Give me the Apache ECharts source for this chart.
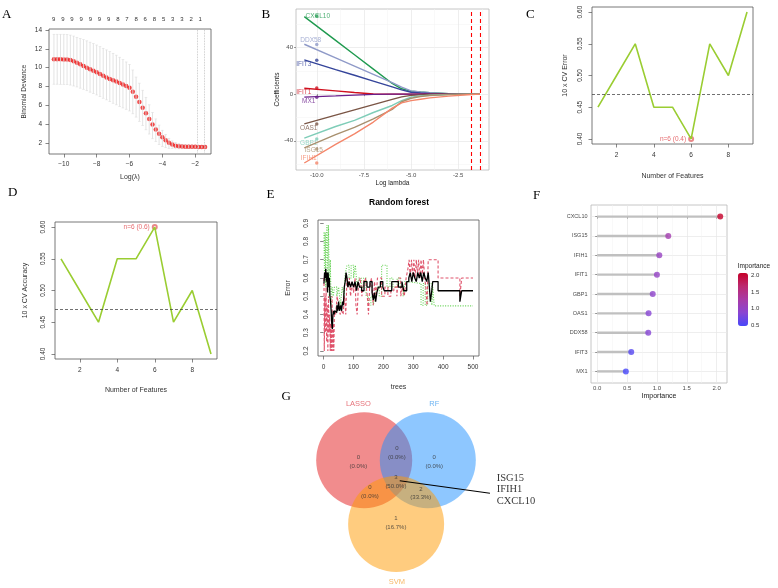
<!DOCTYPE html>
<html>
<head>
<meta charset="utf-8">
<script src="https://cdn.jsdelivr.net/npm/echarts@6.0.0/dist/echarts.min.js"></script>
<style>
  html, body { margin: 0; padding: 0; background: #fff; }
  #chart-container { width: 778px; height: 588px; }
</style>
</head>
<body>
<div id="chart-container"></div>
<script>
// ---------- A: LASSO cross-validation ----------
var logLambdaA = [-10.6,-10.4,-10.2,-10.0,-9.8,-9.6,-9.4,-9.2,-9.0,-8.8,-8.6,-8.4,-8.2,-8.0,-7.8,-7.6,-7.4,-7.2,-7.0,-6.8,-6.6,-6.4,-6.2,-6.0,-5.8,-5.6,-5.4,-5.2,-5.0,-4.8,-4.6,-4.4,-4.2,-4.0,-3.8,-3.6,-3.4,-3.2,-3.0,-2.8,-2.6,-2.4,-2.2,-2.0,-1.8,-1.6,-1.4];
var cvMean = [10.89,10.89,10.88,10.87,10.85,10.80,10.68,10.52,10.35,10.16,9.99,9.82,9.66,9.50,9.31,9.13,8.96,8.80,8.66,8.52,8.38,8.22,8.06,7.85,7.45,6.90,6.35,5.75,5.15,4.55,3.95,3.42,2.98,2.62,2.30,2.02,1.83,1.71,1.65,1.62,1.61,1.60,1.60,1.59,1.58,1.57,1.56];
var cvUpper = [13.54,13.54,13.54,13.54,13.52,13.45,13.35,13.22,13.10,12.98,12.84,12.70,12.55,12.40,12.22,12.05,11.88,11.70,11.52,11.32,11.10,10.85,10.60,10.35,9.75,9.00,8.35,7.60,6.85,6.05,5.25,4.55,3.90,3.35,2.90,2.50,2.22,2.05,1.93,1.86,1.82,1.80,1.78,1.76,1.74,1.72,1.70];
var cvLower = [8.24,8.24,8.23,8.22,8.20,8.15,8.05,7.95,7.82,7.70,7.55,7.40,7.25,7.10,6.92,6.75,6.58,6.40,6.22,6.05,5.88,5.72,5.58,5.40,5.10,4.75,4.30,3.85,3.40,2.95,2.45,2.15,1.82,1.62,1.50,1.42,1.40,1.38,1.38,1.39,1.40,1.41,1.42,1.42,1.42,1.42,1.42];
var topTickPos = [-10.61,-10.05,-9.50,-8.94,-8.38,-7.83,-7.27,-6.71,-6.15,-5.60,-5.04,-4.48,-3.92,-3.37,-2.81,-2.25,-1.70];
var topTickLabels = ['9','9','9','9','9','9','9','8','7','8','6','8','5','3','3','2','1'];
var lambdaMarksA = [-1.9, -1.43];

// ---------- B: coefficient paths ----------
var genesB = ['CXCL10','DDX58','IFIT3','IFIT1','MX1','OAS1','GBP1','ISG15','IFIH1'];
var logLambdaB = [-10.66,-9,-8,-7,-6,-5.5,-5,-4.5,-4,-3,-2,-1.35];
var pathCXCL10 = [66.5,46.1,33.8,21.5,9.2,4.6,2.6,1.8,1.2,0.5,0.1,0];
var pathDDX58  = [42.8,31.1,24.0,16.9,9.9,6.0,2.8,1.8,1.2,0.5,0.1,0];
var pathIFIT3  = [29.4,21.1,16.2,11.2,6.2,3.7,1.6,1.0,0.6,0.2,0,0];
var pathIFIT1  = [5.1,2.8,1.4,0.1,0,0,0,0,0,0,0,0];
var pathMX1    = [-2.5,-1.5,-0.8,-0.2,0,0,0,0,0,0,0,0];
var pathOAS1   = [-25.5,-18.0,-13.5,-9.0,-4.5,-2.3,-1.0,-0.6,-0.3,-0.1,0,0];
var pathGBP1   = [-37.7,-27.7,-22.5,-15.7,-9.7,-5.5,-2.5,-1.5,-0.9,-0.3,-0.1,0];
var pathISG15  = [-46.0,-34.7,-28.5,-21.1,-13.0,-6.5,-3.5,-2.0,-1.2,-0.4,-0.1,0];
var pathIFIH1  = [-59.0,-43.1,-34.0,-23.9,-12.0,-7.5,-5.5,-4.3,-3.2,-1.7,-0.5,0];
var coefDotX = -10;
var coefDots = [67, 42.6, 29, 5.2, -2.6, -25.5, -38.5, -47, -59];
var lambdaCutB = [-1.81, -1.35];

// ---------- C / D: SVM-RFE ----------
var nFeatures = [1,2,3,4,5,6,7,8,9];
var cvError = [0.45,0.50,0.55,0.45,0.45,0.40,0.55,0.50,0.60];
var cvAccuracy = [0.55,0.50,0.45,0.55,0.55,0.60,0.45,0.50,0.40];
var refLines = [0.473, 0.474];

// ---------- E: random forest error ----------
var oobErr = [[1,0.57],[3,0.63],[5,0.6],[7,0.65],[9,0.58],[11,0.63],[13,0.52],[15,0.63],[17,0.55],[19,0.6],[21,0.5],[23,0.47],[25,0.42],[27,0.35],[29,0.32],[31,0.4],[33,0.42],[35,0.4],[37,0.42],[40,0.41],[44,0.45],[47,0.42],[50,0.47],[53,0.42],[57,0.45],[60,0.42],[63,0.47],[66,0.45],[69,0.55],[72,0.58],[75,0.63],[78,0.6],[81,0.55],[85,0.58],[90,0.55],[95,0.58],[100,0.55],[105,0.58],[110,0.53],[115,0.58],[120,0.55],[127,0.53],[135,0.58],[145,0.55],[155,0.58],[162,0.52],[166,0.48],[170,0.52],[174,0.47],[178,0.52],[183,0.55],[190,0.58],[198,0.55],[203,0.53],[228,0.58],[250,0.55],[262,0.58],[268,0.53],[278,0.58],[285,0.6],[290,0.63],[295,0.58],[300,0.63],[305,0.6],[310,0.58],[315,0.63],[320,0.6],[325,0.63],[330,0.58],[335,0.63],[340,0.6],[345,0.58],[350,0.63],[354,0.55],[357,0.47],[362,0.53],[365,0.58],[383,0.53],[456,0.47],[462,0.53],[500,0.53]];
var class1Err = [[1,0.6],[2,0.2],[4,0.5],[6,0.3],[8,0.55],[10,0.25],[12,0.45],[14,0.2],[16,0.5],[18,0.3],[20,0.4],[22,0.2],[24,0.35],[26,0.2],[28,0.5],[30,0.2],[32,0.35],[34,0.2],[36,0.42],[40,0.4],[45,0.5],[50,0.45],[55,0.4],[60,0.42],[65,0.4],[70,0.5],[74,0.4],[78,0.6],[82,0.55],[86,0.6],[90,0.5],[95,0.58],[100,0.52],[105,0.6],[108,0.45],[112,0.4],[116,0.55],[122,0.6],[128,0.5],[134,0.58],[140,0.6],[146,0.5],[150,0.4],[154,0.55],[160,0.6],[166,0.45],[170,0.58],[176,0.5],[180,0.6],[194,0.5],[205,0.55],[215,0.5],[225,0.53],[235,0.55],[245,0.5],[250,0.6],[258,0.5],[264,0.55],[270,0.5],[276,0.6],[282,0.65],[286,0.7],[290,0.6],[294,0.7],[298,0.62],[302,0.7],[306,0.6],[310,0.7],[314,0.62],[318,0.7],[322,0.6],[326,0.7],[330,0.62],[334,0.7],[338,0.6],[342,0.55],[346,0.45],[350,0.7],[383,0.6],[456,0.5],[462,0.6],[500,0.6]];
var class2Err = [[1,0.85],[3,0.6],[5,0.85],[7,0.55],[9,0.8],[11,0.89],[14,0.6],[16,0.89],[19,0.5],[22,0.7],[25,0.45],[28,0.55],[32,0.5],[36,0.55],[44,0.5],[50,0.55],[56,0.45],[62,0.55],[68,0.5],[72,0.62],[78,0.67],[85,0.6],[92,0.67],[100,0.6],[106,0.67],[112,0.55],[118,0.6],[126,0.55],[134,0.6],[142,0.5],[150,0.45],[158,0.5],[166,0.45],[172,0.5],[178,0.55],[186,0.5],[194,0.67],[212,0.55],[222,0.6],[232,0.55],[246,0.6],[256,0.55],[266,0.5],[272,0.58],[280,0.57],[326,0.45],[333,0.57],[340,0.45],[348,0.57],[362,0.45],[365,0.55],[370,0.447],[500,0.447]];

// ---------- F: RF importance ----------
var genesF = ['CXCL10','ISG15','IFIH1','IFIT1','GBP1','OAS1','DDX58','IFIT3','MX1'];
var importance = [2.06,1.19,1.04,1.00,0.93,0.86,0.855,0.57,0.48];

// ---------- G: Venn ----------
var vennSets = ['LASSO','RF','SVM'];
var vennCenters = [[0,0],[1.325,0],[0.665,1.33]];
var vennRegionCounts = [0,0,0,0,3,2,1];
var vennRegionPos = [[-0.12,0.035],[0.68,-0.15],[1.46,0.035],[0.12,0.66],[0.66,0.45],[1.18,0.69],[0.66,1.31]];
var vennSetLabelPos = [[-0.12,-1.18],[1.46,-1.18],[0.68,2.54]];
var sharedGenes = ['ISG15','IFIH1','CXCL10'];

var FONT = 'Liberation Sans';
var SERIF = 'Liberation Serif';
var chart = echarts.init(document.getElementById('chart-container'));

function minus(v) { return String(v).replace('-', '\u2212'); }

// R style axis (base graphics)
function rAxis(gi, min, max, ticks, name, gap, extra) {
  var ax = {
    type: 'value', gridIndex: gi, min: min, max: max,
    axisLine: { show: false }, splitLine: { show: false },
    axisTick: { show: true, length: 3.5, customValues: ticks, lineStyle: { color: '#555', width: 0.7 } },
    axisLabel: { customValues: ticks, fontSize: 6.5, color: '#333', fontFamily: FONT, margin: 8 },
    name: name, nameLocation: 'middle', nameGap: gap,
    nameTextStyle: { fontSize: 7, color: '#333', fontFamily: FONT }
  };
  if (extra) {
    for (var k in extra) {
      if (typeof extra[k] === 'object' && ax[k] && !Array.isArray(extra[k])) Object.assign(ax[k], extra[k]);
      else ax[k] = extra[k];
    }
  }
  return ax;
}
// ggplot style axis
function ggAxis(gi, min, max, ticks, name, gap, extra) {
  var ax = {
    type: 'value', gridIndex: gi, min: min, max: max,
    axisLine: { show: false },
    splitLine: { show: true, lineStyle: { color: '#e6e6e6', width: 0.7 } },
    axisTick: { show: true, length: 2, customValues: ticks, lineStyle: { color: '#555', width: 0.6 } },
    axisLabel: { customValues: ticks, fontSize: 6, color: '#4d4d4d', fontFamily: FONT, margin: 3 },
    name: name, nameLocation: 'middle', nameGap: gap,
    nameTextStyle: { fontSize: 7, color: '#222', fontFamily: FONT }
  };
  if (extra) {
    for (var k in extra) {
      if (typeof extra[k] === 'object' && ax[k] && !Array.isArray(extra[k])) Object.assign(ax[k], extra[k]);
      else ax[k] = extra[k];
    }
  }
  return ax;
}
function minorAxis(gi, min, max, ticks) {
  return {
    type: 'value', gridIndex: gi, min: min, max: max,
    axisLine: { show: false }, axisLabel: { show: false },
    axisTick: { show: false, customValues: ticks },
    splitLine: { show: true, lineStyle: { color: '#f2f2f2', width: 0.5 } }
  };
}

var rBox = { show: true, borderColor: '#555', borderWidth: 0.8, backgroundColor: 'transparent', outerBoundsMode: 'none' };
var ggBox = { show: true, borderColor: '#b8b8b8', borderWidth: 0.8, backgroundColor: 'transparent', outerBoundsMode: 'none' };

var grids = [
  Object.assign({ left: 49, top: 29, width: 162, height: 125 }, rBox),     // 0 A
  Object.assign({ left: 296, top: 9, width: 193, height: 161 }, ggBox),    // 1 B
  Object.assign({ left: 592, top: 7, width: 161, height: 137 }, rBox),     // 2 C
  Object.assign({ left: 55, top: 222, width: 162, height: 137 }, rBox),    // 3 D
  Object.assign({ left: 318, top: 220, width: 161, height: 136 }, rBox),   // 4 E
  Object.assign({ left: 591, top: 205, width: 136, height: 178 }, ggBox),  // 5 F
  { left: 738, top: 273, width: 10, height: 53, outerBoundsMode: 'none' },  // 6 F colour bar
  { left: 287.4, top: 380, width: 230.4, height: 209.8, outerBoundsMode: 'none' } // 7 G
];

var xAxes = [
  rAxis(0, -10.9, -1.04, [-10,-8,-6,-4,-2], 'Log(\u03bb)', 20, { axisLabel: { margin: 7, formatter: minus } }),
  { type: 'value', gridIndex: 0, position: 'top', min: -10.9, max: -1.04,
    axisLine: { show: false }, splitLine: { show: false }, axisTick: { show: false, customValues: topTickPos },
    axisLabel: { customValues: topTickPos, fontSize: 6, color: '#333', fontFamily: FONT, margin: 7,
      formatter: function (v) {
        for (var i = 0; i < topTickPos.length; i++) if (Math.abs(topTickPos[i] - v) < 1e-6) return topTickLabels[i];
        return '';
      } } },
  ggAxis(1, -11.1, -0.87, [-10,-7.5,-5,-2.5], 'Log lambda', 9, { axisLabel: { margin: 2.5, formatter: function (v) { return v.toFixed(1); } }, nameTextStyle: { fontSize: 6.5 } }),
  minorAxis(1, -11.1, -0.87, [-8.75,-6.25,-3.75,-1.25]),
  rAxis(2, 0.68, 9.32, [2,4,6,8], 'Number of Features', 29),
  rAxis(3, 0.68, 9.32, [2,4,6,8], 'Number of Features', 27.5),
  rAxis(4, -19, 520, [0,100,200,300,400,500], 'trees', 27.5),
  ggAxis(5, -0.1035, 2.1735, [0,0.5,1,1.5,2], 'Importance', 9, { axisLabel: { margin: 2.5, formatter: function (v) { return v.toFixed(1); } } }),
  minorAxis(5, -0.1035, 2.1735, [0.25,0.75,1.25,1.75]),
  { type: 'value', gridIndex: 6, min: 0, max: 1, show: false },
  { type: 'value', gridIndex: 7, min: -1.6, max: 3.2, show: false }
];

var yAxes = [
  rAxis(0, 0.83, 14.1, [2,4,6,8,10,12,14], 'Binomial Deviance', 21, { axisLabel: { margin: 7 }, nameTextStyle: { fontSize: 6.5 } }),
  ggAxis(1, -65, 73, [-40,0,40], 'Coefficients', 12, { nameTextStyle: { fontSize: 6.5 } }),
  minorAxis(1, -65, 73, [-60,-20,20,60]),
  rAxis(2, 0.392, 0.608, [0.40,0.45,0.50,0.55,0.60], '10 x CV Error', 23, { axisLabel: { rotate: 90, margin: 8, formatter: function (v) { return v.toFixed(2); } } }),
  rAxis(3, 0.392, 0.608, [0.40,0.45,0.50,0.55,0.60], '10 x CV Accuracy', 26.5, { axisLabel: { rotate: 90, margin: 8, formatter: function (v) { return v.toFixed(2); } } }),
  rAxis(4, 0.172, 0.918, [0.2,0.3,0.4,0.5,0.6,0.7,0.8,0.9], 'Error', 26.5, { axisLabel: { rotate: 90, margin: 8, formatter: function (v) { return v.toFixed(1); } } }),
  ggAxis(5, -0.6, 8.6, [0,1,2,3,4,5,6,7,8], '', 0, { inverse: true, axisLabel: { margin: 3.5, fontSize: 5.5, formatter: function (v) { return genesF[Math.round(v)]; } } }),
  { type: 'value', gridIndex: 6, position: 'right', min: 0.48, max: 2.07,
    axisLine: { show: false }, splitLine: { show: false },
    axisTick: { show: false, customValues: [0.5,1,1.5,2] },
    axisLabel: { customValues: [0.5,1,1.5,2], fontSize: 6, color: '#333', fontFamily: FONT, margin: 3,
      formatter: function (v) { return v.toFixed(1); } } },
  { type: 'value', gridIndex: 7, min: -1.67, max: 2.7, inverse: true, show: false }
];

var series = [];

// A: error bars as a broken line (one vertical segment per lambda), caps and mean dots
var errGray = '#dcdcdc';
var errSegments = [];
logLambdaA.forEach(function (x, i) {
  errSegments.push([x, cvLower[i]], [x, cvUpper[i]], [x, '-']);
});
series.push({
  type: 'line', xAxisIndex: 0, yAxisIndex: 0, showSymbol: false, silent: true, connectNulls: false,
  lineStyle: { color: errGray, width: 0.8 },
  data: errSegments
});
series.push({
  type: 'scatter', xAxisIndex: 0, yAxisIndex: 0, symbol: 'rect', symbolSize: [2.6, 0.7], silent: true,
  itemStyle: { color: errGray },
  data: logLambdaA.map(function (x, i) { return [x, cvLower[i]]; })
    .concat(logLambdaA.map(function (x, i) { return [x, cvUpper[i]]; }))
});
series.push({
  type: 'scatter', xAxisIndex: 0, yAxisIndex: 0, symbolSize: 4.5, silent: true,
  itemStyle: { color: '#ee1b1b' },
  data: logLambdaA.map(function (x, i) { return [x, cvMean[i]]; }),
  markLine: { silent: true, symbol: 'none', label: { show: false },
    lineStyle: { color: '#bbb', type: 'dotted', width: 0.8 },
    data: lambdaMarksA.map(function (v) { return { xAxis: v }; }) }
});

// B
var pathsB = [pathCXCL10, pathDDX58, pathIFIT3, pathIFIT1, pathMX1, pathOAS1, pathGBP1, pathISG15, pathIFIH1];
var colorsB = ['#1f9a4f','#8f9ac8','#34449a','#d0101e','#6b1f8c','#7a5545','#7fcdb8','#a8906e','#f4866a'];
var labelOffsetB = [[1,0],[-6,-4],[-13,3.5],[-13,4],[-8,4],[-8,4],[-8,4],[-3,1.5],[-8,-5]];
genesB.forEach(function (g, gi) {
  series.push({
    type: 'line', name: g, xAxisIndex: 2, yAxisIndex: 1, showSymbol: false, silent: true,
    lineStyle: { color: colorsB[gi], width: 1.4 },
    data: logLambdaB.map(function (x, i) { return [x, pathsB[gi][i]]; }),
    markLine: gi === 0 ? { silent: true, symbol: 'none', label: { show: false },
      lineStyle: { color: '#ff0000', type: [4, 3], width: 1.1 },
      data: lambdaCutB.map(function (v) { return { xAxis: v }; }) } : undefined
  });
});
series.push({
  type: 'scatter', xAxisIndex: 2, yAxisIndex: 1, symbolSize: 3.5, silent: true,
  data: genesB.map(function (g, gi) {
    return { value: [coefDotX, coefDots[gi]], itemStyle: { color: colorsB[gi] },
      label: { show: true, position: 'inside', formatter: g, offset: labelOffsetB[gi],
        color: colorsB[gi], fontSize: 6.5, fontFamily: FONT } };
  })
});

// C
var minIdx = cvError.indexOf(Math.min.apply(null, cvError));
series.push({
  type: 'line', xAxisIndex: 4, yAxisIndex: 3, showSymbol: false, silent: true,
  lineStyle: { color: '#9acd32', width: 1.6 },
  data: nFeatures.map(function (n, i) { return [n, cvError[i]]; }),
  markLine: { silent: true, symbol: 'none', label: { show: false },
    lineStyle: { color: '#333', type: [3, 2], width: 0.7 }, data: [{ yAxis: refLines[0] }] }
});
series.push({
  type: 'scatter', xAxisIndex: 4, yAxisIndex: 3, symbol: 'emptyCircle', symbolSize: 4, silent: true,
  itemStyle: { color: '#e36a6a', borderWidth: 0.8 },
  data: [[nFeatures[minIdx], cvError[minIdx]]],
  label: { show: true, position: 'left', distance: 2, color: '#e0454a', fontSize: 6.5, fontFamily: FONT,
    formatter: 'n=' + nFeatures[minIdx] + ' (' + cvError[minIdx] + ')' }
});

// D
var maxIdx = cvAccuracy.indexOf(Math.max.apply(null, cvAccuracy));
series.push({
  type: 'line', xAxisIndex: 5, yAxisIndex: 4, showSymbol: false, silent: true,
  lineStyle: { color: '#9acd32', width: 1.6 },
  data: nFeatures.map(function (n, i) { return [n, cvAccuracy[i]]; }),
  markLine: { silent: true, symbol: 'none', label: { show: false },
    lineStyle: { color: '#333', type: [3, 2], width: 0.7 }, data: [{ yAxis: refLines[1] }] }
});
series.push({
  type: 'scatter', xAxisIndex: 5, yAxisIndex: 4, symbol: 'emptyCircle', symbolSize: 4, silent: true,
  itemStyle: { color: '#e36a6a', borderWidth: 0.8 },
  data: [[nFeatures[maxIdx], cvAccuracy[maxIdx]]],
  label: { show: true, position: 'left', distance: 2, color: '#e0454a', fontSize: 6.5, fontFamily: FONT,
    formatter: 'n=' + nFeatures[maxIdx] + ' (' + cvAccuracy[maxIdx] + ')' }
});

// E
[[class2Err, '#61d04f', [1, 1.5]], [class1Err, '#df536b', [3, 2]], [oobErr, '#000000', 'solid']].forEach(function (s) {
  series.push({
    type: 'line', xAxisIndex: 6, yAxisIndex: 5, step: 'end', showSymbol: false, silent: true,
    lineStyle: { color: s[1], type: s[2], width: s[1] === '#000000' ? 1.3 : 1.1 },
    data: s[0]
  });
});

// F
series.push({
  type: 'custom', xAxisIndex: 7, yAxisIndex: 6,
  data: importance.map(function (v, i) { return [v, i]; }),
  encode: { x: 0, y: 1 },
  renderItem: function (params, api) {
    var a = api.coord([0, api.value(1)]), b = api.coord([api.value(0), api.value(1)]);
    return { type: 'rect', shape: { x: a[0], y: a[1] - 1.2, width: b[0] - a[0], height: 2.4 },
      style: { fill: '#c0c0c0' } };
  }
});
var fDotIndex = series.length;
series.push({
  type: 'scatter', xAxisIndex: 7, yAxisIndex: 6, symbolSize: 6, silent: true,
  data: importance.map(function (v, i) { return [v, i]; })
});
series.push({ type: 'scatter', xAxisIndex: 9, yAxisIndex: 7, data: [] });

// G
series.push({
  type: 'scatter', xAxisIndex: 10, yAxisIndex: 8, symbolSize: 96, silent: true,
  data: vennCenters.map(function (c, i) {
    return { value: c, itemStyle: { color: ['#e41a1c', '#1e90ff', '#ff9900'][i], opacity: 0.5 } };
  })
});
var vennTotal = vennRegionCounts.reduce(function (a, b) { return a + b; }, 0);
series.push({
  type: 'scatter', xAxisIndex: 10, yAxisIndex: 8, symbolSize: 0, silent: true,
  data: vennRegionCounts.map(function (n, i) {
    return { value: vennRegionPos[i], label: { show: true, position: 'inside', color: '#333',
      fontSize: 6, lineHeight: 8.5, fontFamily: FONT,
      formatter: n + '\n(' + (100 * n / vennTotal).toFixed(1) + '%)' } };
  })
});
series.push({
  type: 'scatter', xAxisIndex: 10, yAxisIndex: 8, symbolSize: 0, silent: true,
  data: vennSets.map(function (s, i) {
    return { value: vennSetLabelPos[i], label: { show: true, position: 'inside', formatter: s,
      color: ['#e0505a', '#4aa3f0', '#f4a742'][i], fontSize: 7.5, fontFamily: FONT } };
  }),
  markLine: { silent: true, symbol: ['none', 'arrow'], symbolSize: [0, 7], label: { show: false },
    lineStyle: { color: '#000', type: 'solid', width: 1.1 },
    data: [[{ coord: [0.74, 0.43] }, { coord: [2.62, 0.69] }]] }
});
series.push({
  type: 'scatter', xAxisIndex: 10, yAxisIndex: 8, symbolSize: 0, silent: true,
  data: [{ value: [2.76, 0.61], label: { show: true, position: 'right', distance: 0,
    formatter: sharedGenes.join('\n'), color: '#000', fontSize: 10.5, lineHeight: 11.5,
    fontFamily: SERIF, align: 'left' } }]
});

var letterStyle = { fontSize: 13, fontWeight: 'normal', color: '#000', fontFamily: SERIF };
var letters = [['A', 2, 8.5], ['B', 261.5, 8], ['C', 526, 8], ['D', 8, 186], ['E', 266.5, 188], ['F', 533, 189], ['G', 281.5, 390]];
var titles = letters.map(function (l) {
  return { text: l[0], left: l[1], top: l[2], padding: 0, textStyle: letterStyle };
});
titles.push({ text: 'Random forest', left: 369, top: 198, padding: 0,
  textStyle: { fontSize: 8.5, fontWeight: 'bold', color: '#000', fontFamily: FONT } });
titles.push({ text: 'Importance', left: 737.7, top: 263, padding: 0,
  textStyle: { fontSize: 6.5, fontWeight: 'normal', color: '#222', fontFamily: FONT } });

var option = {
  animation: false,
  backgroundColor: '#fff',
  title: titles,
  grid: grids,
  xAxis: xAxes,
  yAxis: yAxes,
  visualMap: [{
    type: 'continuous', seriesIndex: fDotIndex, dimension: 0,
    min: 0.48, max: 2.07, calculable: false, show: true,
    left: 738, top: 273, itemWidth: 10, itemHeight: 53, padding: 0,
    inRange: { color: ['#4747fa', '#8a45d2', '#a83aa6', '#bc2a70', '#c60028'] }
  }],
  series: series
};

chart.setOption(option);
</script>
</body>
</html>
